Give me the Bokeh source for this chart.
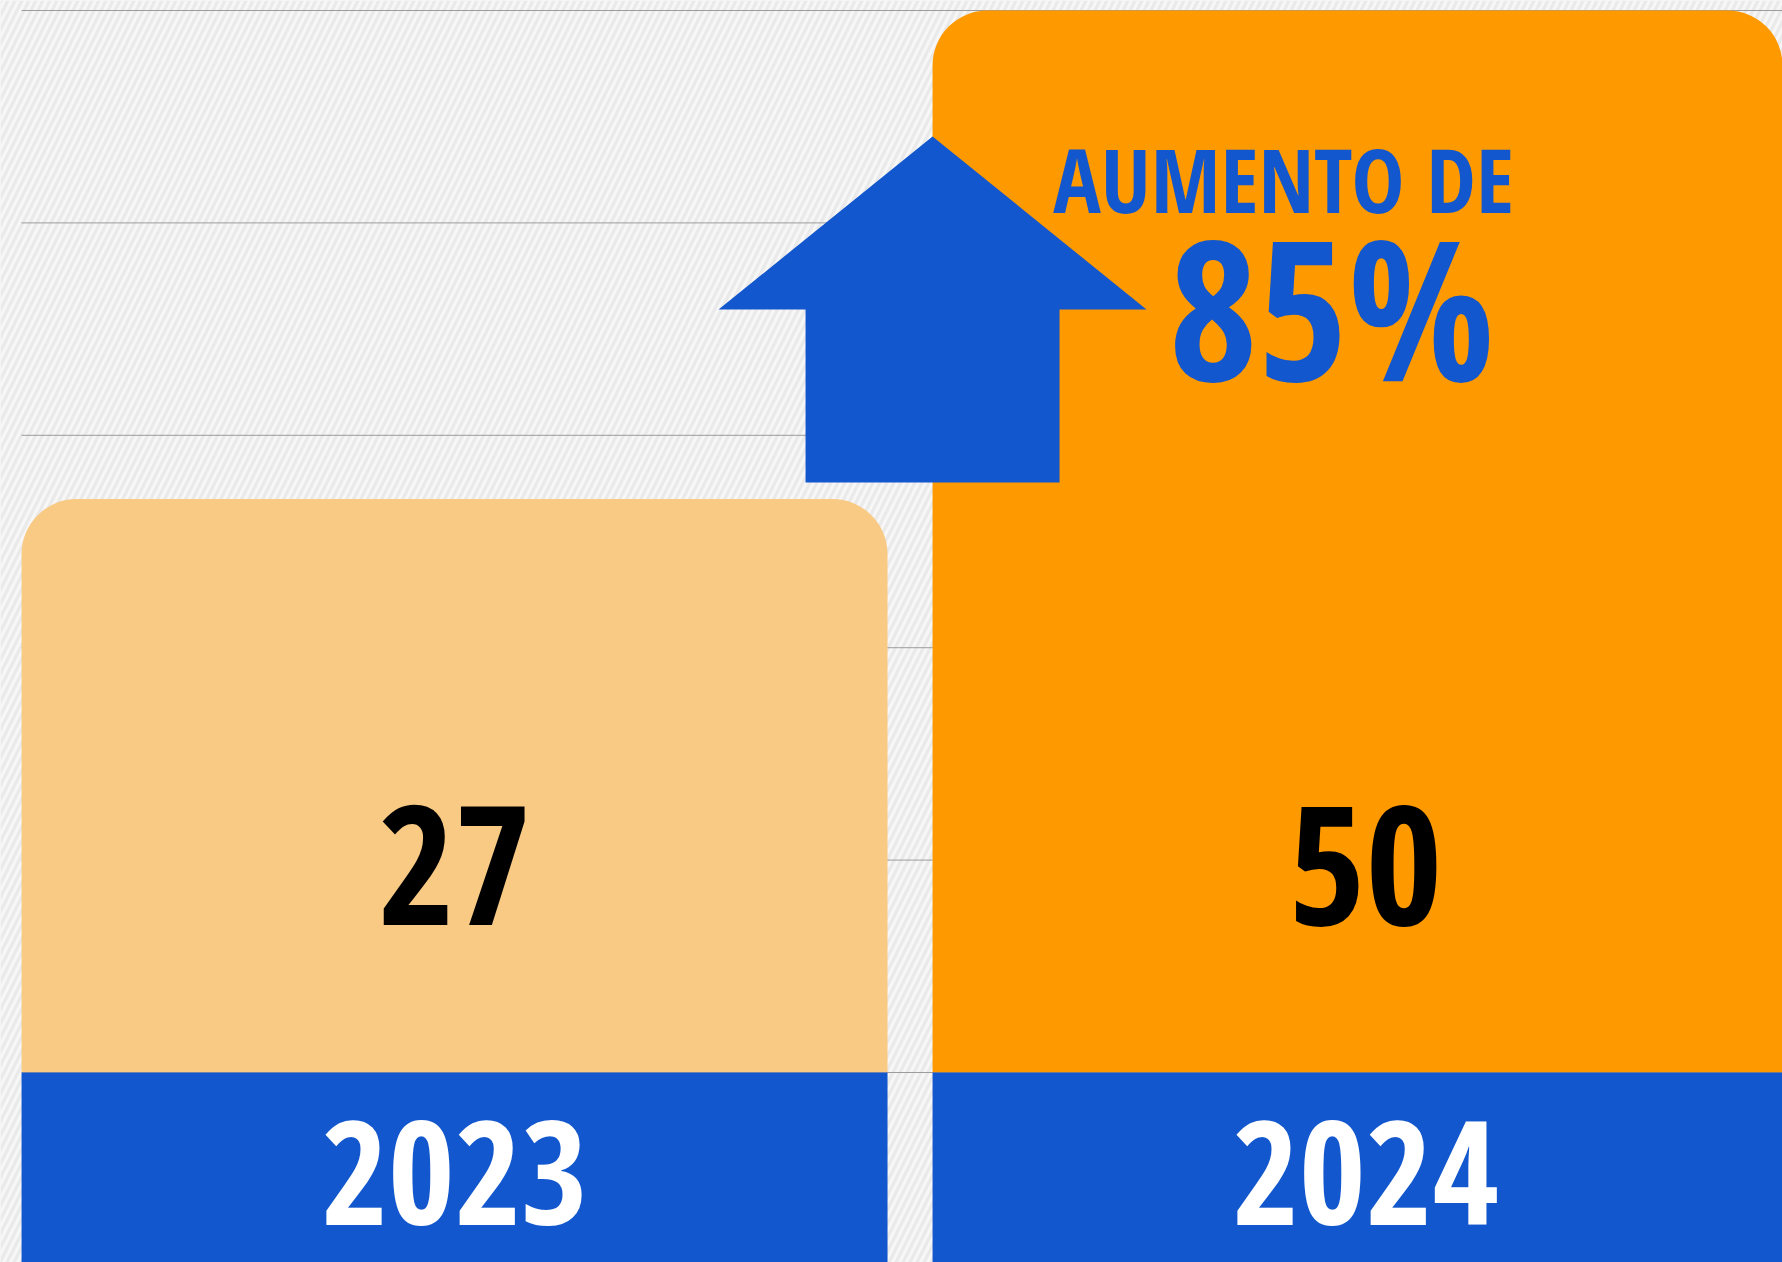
from bokeh.plotting import figure
from bokeh.models import Range1d, ColumnDataSource
from bokeh.core.properties import value
from bokeh.embed import file_html
from bokeh.resources import INLINE

# ---- data ----
years = ["2023", "2024"]
counts = [27, 50]
bar_colors = ["#F9CA84", "#FF9900"]
grid_ticks = [0, 10, 20, 30, 40, 50]
headline = "AUMENTO DE"
increase_pct = round((counts[1] - counts[0]) / counts[0] * 100)
increase_label = f"{increase_pct}%"

# ---- style ----
BLUE = "#1257CD"
BAR_W = 0.9506
FONT = value("Open Sans Condensed")
BG = "#eaeaea"

xs = list(range(len(years)))
half = BAR_W / 2

p = figure(width=1782, height=1262, output_backend="svg", toolbar_location=None,
           x_range=Range1d(-0.4984, 1.4577), y_range=Range1d(-8.945, 50.471),
           min_border=0, min_border_left=0, min_border_right=0,
           min_border_top=0, min_border_bottom=0)
p.axis.visible = False
p.grid.visible = False
p.outline_line_color = None
p.background_fill_color = BG
p.border_fill_color = BG

# paper-like texture
p.quad(left=[p.x_range.start], right=[p.x_range.end], bottom=[p.y_range.start], top=[p.y_range.end],
       fill_color=None, line_color=None, hatch_pattern="right_diagonal_line",
       hatch_color="white", hatch_alpha=0.6, hatch_scale=14, hatch_weight=3)

# gridlines
p.segment(x0=[xs[0] - half] * len(grid_ticks), x1=[2.0] * len(grid_ticks),
          y0=grid_ticks, y1=grid_ticks, line_color="#9c9c9c", line_width=1)

# bars
src = ColumnDataSource(dict(x=xs, top=counts, color=bar_colors, year=years,
                            label=[str(c) for c in counts]))
p.vbar(x="x", top="top", bottom=0, width=BAR_W, fill_color="color", line_color=None,
       source=src, border_radius=(55, 55, 0, 0))

# blue category band
ymin = p.y_range.start
p.vbar(x="x", top=0, bottom=ymin, width=BAR_W, fill_color=BLUE, line_color=None, source=src)

# value labels
p.text(x="x", y=9.75, text="label", source=src, text_font=FONT, text_font_style="bold",
       text_font_size="166px", text_color="black", text_align="center",
       text_baseline="alphabetic")
# category labels
p.text(x="x", y=-4.73, text="year", source=src, text_font=FONT, text_font_style="bold",
       text_font_size="144px", text_color="white", text_align="center",
       text_baseline="middle")

# arrow (anchored at left edge of the 2024 bar, starting just above the 2023 bar)
tip_x = xs[1] - half
tip_y = 44.07
wing_y = 35.92
base_y = 27.78
wing_hw = 0.2349
shaft_hw = 0.1394
p.patch(x=[tip_x, tip_x + wing_hw, tip_x + shaft_hw, tip_x + shaft_hw,
           tip_x - shaft_hw, tip_x - shaft_hw, tip_x - wing_hw],
        y=[tip_y, wing_y, wing_y, base_y, base_y, wing_y, wing_y],
        fill_color=BLUE, line_color=None)

p.text(x=[0.91], y=[42.1], text=[headline], text_font=FONT, text_font_style="bold",
       text_font_size="89px", text_color=BLUE, text_align="center",
       text_baseline="alphabetic")
p.text(x=[0.9627], y=[36.11], text=[increase_label], text_font=FONT, text_font_style="bold",
       text_font_size="194px", text_color=BLUE, text_align="center",
       text_baseline="alphabetic")

open("out.html", "w").write(file_html(p, INLINE))
